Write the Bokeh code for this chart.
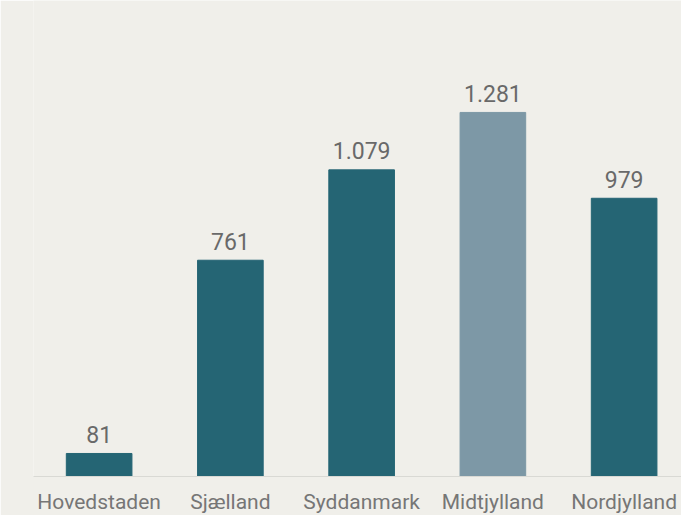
from bokeh.plotting import figure
from bokeh.models import ColumnDataSource, Range1d, FixedTicker
from bokeh.core.properties import value
from bokeh.embed import file_html
from bokeh.resources import INLINE

regions = ["Hovedstaden", "Sjælland", "Syddanmark", "Midtjylland", "Nordjylland"]
counts = [81, 761, 1079, 1281, 979]
bar_colors = ["#256574", "#256574", "#256574", "#7d98a6", "#256574"]

pos = list(range(len(regions)))
labels = [f"{v:,}".replace(",", ".") for v in counts]

src = ColumnDataSource(dict(x=pos, top=counts, color=bar_colors, label=labels))

BG = "#f0efea"
FONT = "Roboto"

p = figure(frame_width=648, frame_height=476, output_backend="svg", toolbar_location=None,
           x_range=Range1d(-0.5, -0.5 + 648 / 131.25), y_range=Range1d(0, 476 / 0.2842),
           min_border_left=33, min_border_right=0, min_border_top=0, min_border_bottom=0)
p.background_fill_color = BG
p.border_fill_color = BG
p.outline_line_color = None

p.vbar(x="x", top="top", bottom=0, width=0.5, color="color", source=src)
p.text(x="x", y="top", text="label", source=src, text_align="center",
       text_baseline="alphabetic", y_offset=-19, text_font=value(FONT),
       text_font_size="23px", text_color="#696969")

p.yaxis.visible = False
p.grid.visible = False
p.xaxis.ticker = FixedTicker(ticks=pos)
p.xaxis.major_label_overrides = {i: r for i, r in enumerate(regions)}
p.xaxis.major_tick_line_color = None
p.xaxis.minor_tick_line_color = None
p.xaxis.major_tick_out = 0
p.xaxis.axis_line_color = "#d9d9d4"
p.xaxis.major_label_standoff = 13
p.xaxis.major_label_text_font = FONT
p.xaxis.major_label_text_font_size = "21px"
p.xaxis.major_label_text_color = "#767676"

open("out.html", "w").write(file_html(p, INLINE))
